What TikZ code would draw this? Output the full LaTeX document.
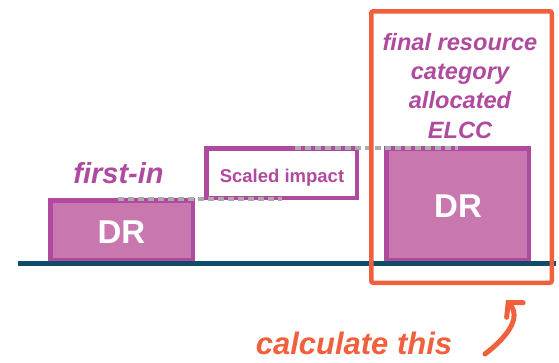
\documentclass[tikz,border=0pt]{standalone}
\usepackage{fontspec}
\setmainfont{Liberation Sans}
\usetikzlibrary{arrows.meta}
\definecolor{pur}{RGB}{176,74,158}
\definecolor{purfill}{RGB}{200,120,174}
\definecolor{org}{RGB}{240,96,60}
\definecolor{baseteal}{RGB}{14,76,106}
\definecolor{dotgray}{RGB}{172,172,172}
\begin{document}
\begin{tikzpicture}[x=1pt,y=-1pt,
  box/.style={draw=pur, line width=4.5pt, rectangle, inner sep=0pt},
  drbox/.style={box, fill=purfill},
  drtext/.style={text=white, font=\fontsize{33}{38}\selectfont\bfseries, inner sep=0pt, anchor=base},
  lbl/.style={text=pur, font=\fontsize{#1}{#1}\selectfont\bfseries\itshape, inner sep=0pt, anchor=base},
  grayline/.style={draw=dotgray, line width=4.5pt, dash pattern=on 5.5pt off 4.5pt},
  ]
\useasboundingbox (0,0) rectangle (559,362);
% boxes
\node[drbox, minimum width=142.5pt, minimum height=59.5pt] (dr1) at (121.5,230) {};
\node[box, fill=white, minimum width=150.5pt, minimum height=49.5pt] (scaled) at (281.5,173) {};
\node[drbox, minimum width=142.5pt, minimum height=111.5pt] (dr2) at (457.5,204) {};
% texts
\node[drtext] (dr1t) at (121.5,243) {DR};
\node[drtext] (dr2t) at (458,217) {DR};
\node[text=pur, font=\fontsize{18.5}{20}\selectfont\bfseries, inner sep=0pt, anchor=base] (sct) at (282,182) {Scaled impact};
\node[lbl=29] (first) at (118.5,183) {first-in};
\node[text=pur, font=\fontsize{23.6}{29.3}\selectfont\bfseries\itshape, inner sep=0pt, anchor=north, align=center] (final) at (460,33) {final resource\\category\\allocated\\ELCC};
% gray dashed level lines
\coordinate (g1a) at (118,199);
\coordinate (g1b) at (282,199);
\coordinate (g2a) at (295,148);
\coordinate (g2b) at (458,148);
\draw[grayline] (g1a) -- (g1b);
\draw[grayline] (g2a) -- (g2b);
% baseline
\coordinate (bl) at (18,263.5);
\coordinate (br) at (556,263.5);
\draw[baseteal, line width=5pt] (bl) -- (br);
% orange frame
\node[draw=org, line width=4.5pt, rectangle, rounded corners=2pt, inner sep=0pt, minimum width=180.5pt, minimum height=271.5pt] (frame) at (461.5,147) {};
% calculate this
\node[text=org, font=\fontsize{31}{31}\selectfont\bfseries\itshape, inner sep=0pt, anchor=base] (calc) at (354,354.5) {calculate this};
\coordinate (atail) at (485,354);
\coordinate (atip) at (506,300);
\draw[org, line width=5pt, line cap=round, -{Straight Barb[length=10pt,width=22pt,line cap=round]}] (atail) .. controls (506,338) and (522,318) .. (atip);
\end{tikzpicture}
\end{document}
